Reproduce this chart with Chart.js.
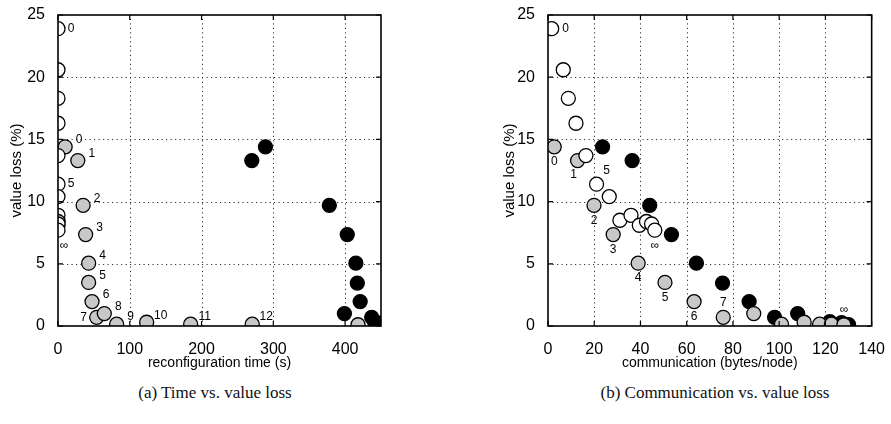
<!DOCTYPE html>
<html lang="en">
<head>
<meta charset="UTF-8" />
<title>Value loss</title>
<script src="https://cdn.jsdelivr.net/npm/chart.js"></script>
<style>
  body {
    margin: 0;
    width: 891px;
    height: 424px;
    position: relative;
    overflow: hidden;
    background: #fff;
  }
  canvas { position: absolute; top: 0; }
  #timeChart { left: 0; }
  #commChart { left: 445px; }
  .caption {
    position: absolute;
    top: 381px;
    line-height: 24px;
    font-family: 'Liberation Serif', serif;
    font-size: 17px;
    text-align: center;
    color: #111;
  }
</style>
</head>
<body>
<canvas id="timeChart" width="445" height="372"></canvas>
<canvas id="commChart" width="446" height="372"></canvas>
<div class="caption" style="left:95px;width:240px">(a) Time vs. value loss</div>
<div class="caption" style="left:565px;width:300px">(b) Communication vs. value loss</div>

<script>
  // value loss (%) for the three series
  const whiteLoss = [23.9, 20.6, 18.3, 16.3, 13.7, 11.4, 10.4, 8.5, 8.9, 8.1, 8.4, 8.2, 7.7];
  const grayLoss = [14.4, 13.3, 9.7, 7.35, 5.05, 3.5, 1.96, 0.7, 1.0, 0.15, 0.3, 0.15, 0.15, 0.1];
  const blackLoss = [14.4, 13.3, 9.7, 7.35, 5.05, 3.45, 1.96, 0.7, 1.0, 0.35, 0.27, 0.1];

  // reconfiguration time (s)
  const whiteTime = [0, 0, 0, 0, 0, 0, 0, 0, 0, 0, 0, 0, 0];
  const grayTime = [10, 27.6, 35, 38.5, 42.7, 42.7, 47.4, 53.9, 64.5, 81.7, 123.5, 184.8, 270.6, 418];
  const blackTime = [289, 270, 378, 403, 415, 417, 421, 437, 399, 441, 444, 447];

  // communication (bytes/node)
  const whiteComm = [1.6, 6.6, 8.8, 12.1, 16.4, 21.0, 26.5, 31.1, 35.9, 39.5, 42.6, 44.8, 46.2];
  const grayComm = [2.7, 12.8, 19.9, 28.2, 39, 50.6, 63.2, 75.8, 89, 101, 110.8, 117.5, 122.6, 128];
  const blackComm = [23.6, 36.4, 44, 53.4, 64.2, 75.5, 87, 98, 108, 121.9, 127, 130];

  // point annotations
  const whiteLabels = ['0', '', '', '', '', '5', '', '', '', '', '', '', '∞'];
  const grayLabelsTime = ['0', '1', '2', '3', '4', '5', '6', '7', '8', '9', '10', '11', '12', ''];
  const grayLabelsComm = ['0', '1', '2', '3', '4', '5', '6', '7', '', '', '', '', '', '∞'];

  const lossTicks = [0, 5, 10, 15, 20, 25];
  const timeTicks = [0, 100, 200, 300, 400];
  const commTicks = [0, 20, 40, 60, 80, 100, 120, 140];

  const sans = "'Liberation Sans', Arial, sans-serif";

  function pts(xs, ys) {
    return xs.map((x, i) => ({ x: x, y: ys[i] }));
  }

  // dotted grid, frame, inward ticks and the little point numbers
  const framePlugin = {
    id: 'frame',
    beforeDatasetsDraw(chart) {
      const { ctx, chartArea: a, scales: { x, y } } = chart;
      ctx.save();
      ctx.strokeStyle = '#333';
      ctx.lineWidth = 1;
      ctx.setLineDash([1.2, 3.3]);
      ctx.beginPath();
      x.ticks.forEach(t => {
        if (t.value === x.min || t.value === x.max) return;
        const px = Math.round(x.getPixelForValue(t.value)) + 0.5;
        ctx.moveTo(px, a.bottom); ctx.lineTo(px, a.top);
      });
      y.ticks.forEach(t => {
        if (t.value === y.min || t.value === y.max) return;
        const py = Math.round(y.getPixelForValue(t.value)) + 0.5;
        ctx.moveTo(a.left, py); ctx.lineTo(a.right, py);
      });
      ctx.stroke();
      ctx.restore();
    },
    afterDatasetsDraw(chart, args, opts) {
      const { ctx, chartArea: a, scales: { x, y } } = chart;
      ctx.save();
      ctx.strokeStyle = '#000';
      ctx.lineWidth = 1.2;
      ctx.beginPath();
      x.ticks.forEach(t => {
        const px = x.getPixelForValue(t.value);
        ctx.moveTo(px, a.bottom); ctx.lineTo(px, a.bottom - 5);
        ctx.moveTo(px, a.top); ctx.lineTo(px, a.top + 5);
      });
      y.ticks.forEach(t => {
        const py = y.getPixelForValue(t.value);
        ctx.moveTo(a.left, py); ctx.lineTo(a.left + 5, py);
        ctx.moveTo(a.right, py); ctx.lineTo(a.right - 5, py);
      });
      ctx.stroke();
      ctx.lineWidth = 1.6;
      ctx.strokeRect(a.left, a.top, a.right - a.left, a.bottom - a.top);

      ctx.font = '12px ' + sans;
      ctx.fillStyle = '#000';
      ctx.textAlign = 'center';
      ctx.textBaseline = 'middle';
      opts.labels.forEach((list, di) => {
        const meta = chart.getDatasetMeta(di);
        list.forEach((txt, i) => {
          if (!txt) return;
          const el = meta.data[i];
          const off = opts.offset(di, i, txt);
          ctx.fillText(txt, el.x + off[0], el.y + off[1]);
        });
      });
      ctx.restore();
    }
  };

  function makeChart(id, xs, xTicks, xMax, xTitle, pad, yWidth, labels, offset) {
    return new Chart(document.getElementById(id), {
      type: 'scatter',
      data: {
        datasets: [
          { data: pts(xs[0], whiteLoss), backgroundColor: '#fff' },
          { data: pts(xs[1], grayLoss), backgroundColor: '#c8c8c8' },
          { data: pts(xs[2], blackLoss), backgroundColor: '#000' }
        ].map(d => Object.assign(d, {
          borderColor: '#000', borderWidth: 1.3, pointRadius: 7, pointHoverRadius: 7, clip: 0
        }))
      },
      options: {
        responsive: false,
        animation: false,
        events: [],
        layout: { padding: pad },
        plugins: {
          legend: { display: false },
          tooltip: { enabled: false },
          frame: { labels: labels, offset: offset }
        },
        scales: {
          x: {
            type: 'linear', min: 0, max: xMax,
            afterBuildTicks: s => { s.ticks = xTicks.map(v => ({ value: v })); },
            afterFit: s => { s.height = 46; },
            grid: { display: false },
            border: { display: false },
            ticks: { color: '#000', padding: 6, font: { family: sans, size: 16 } },
            title: { display: true, text: xTitle, color: '#000', padding: 0, font: { family: sans, size: 14 } }
          },
          y: {
            type: 'linear', min: 0, max: 25,
            afterBuildTicks: s => { s.ticks = lossTicks.map(v => ({ value: v })); },
            afterFit: s => { s.width = yWidth; },
            grid: { display: false },
            border: { display: false },
            ticks: { color: '#000', padding: 5, font: { family: sans, size: 16 } },
            title: { display: true, text: 'value loss (%)', color: '#000', padding: 0, font: { family: sans, size: 15 } }
          }
        }
      },
      plugins: [framePlugin]
    });
  }

  makeChart('timeChart', [whiteTime, grayTime, blackTime], timeTicks, 450, 'reconfiguration time (s)',
    { left: 8, top: 15, right: 64, bottom: 0 }, 50,
    [whiteLabels, grayLabelsTime],
    (di, i, txt) => {
      if (di === 0) return txt === '∞' ? [6, 15] : [13, 0];
      if (txt === '7') return [-13, 0];
      return [14, -7];
    });

  makeChart('commChart', [whiteComm, grayComm, blackComm], commTicks, 140, 'communication (bytes/node)',
    { left: 56, top: 15, right: 19, bottom: 0 }, 47,
    [whiteLabels, grayLabelsComm],
    (di, i, txt) => {
      if (di === 0) {
        if (txt === '0') return [14, 0];
        if (txt === '5') return [10, -13];
        return [0, 15];
      }
      if (txt === '7' || txt === '∞') return [0, -15];
      if (txt === '1') return [-4, 14];
      return [0, 15];
    });
</script>
</body>
</html>
